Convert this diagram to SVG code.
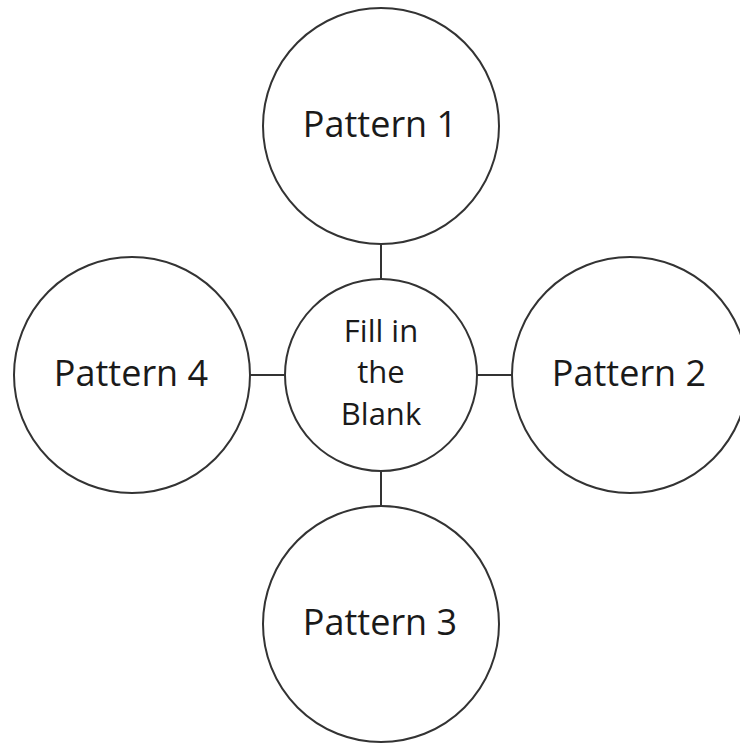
<svg xmlns="http://www.w3.org/2000/svg" width="740" height="746" viewBox="0 0 740 746">
<style>
.c{fill:#fff;stroke:#333;stroke-width:2}
.l{stroke:#333;stroke-width:2;fill:none}
.t{font-family:"Open Sans","Liberation Sans",sans-serif;fill:#1a1a1a;text-anchor:middle}
.big{font-size:36px}
.sm{font-size:31px}
</style>
<rect width="740" height="746" fill="#fff"/>
<g id="connectors">
<line class="l" x1="381" y1="244" x2="381" y2="279"/>
<line class="l" x1="381" y1="471" x2="381" y2="506"/>
<line class="l" x1="250" y1="375" x2="285" y2="375"/>
<line class="l" x1="476" y1="375" x2="512" y2="375"/>
</g>
<g id="center">
<circle class="c" cx="381" cy="375" r="96"/>
<text class="t sm" x="381" y="342">Fill in</text>
<text class="t sm" x="381" y="383">the</text>
<text class="t sm" x="381" y="425">Blank</text>
</g>
<g id="pattern1">
<circle class="c" cx="381" cy="126" r="118"/>
<text class="t big" x="380" y="137">Pattern 1</text>
</g>
<g id="pattern2">
<circle class="c" cx="630" cy="375" r="118"/>
<text class="t big" x="629" y="386">Pattern 2</text>
</g>
<g id="pattern3">
<circle class="c" cx="381" cy="624" r="118"/>
<text class="t big" x="380" y="635">Pattern 3</text>
</g>
<g id="pattern4">
<circle class="c" cx="132" cy="375" r="118"/>
<text class="t big" x="131" y="386">Pattern 4</text>
</g>
</svg>
